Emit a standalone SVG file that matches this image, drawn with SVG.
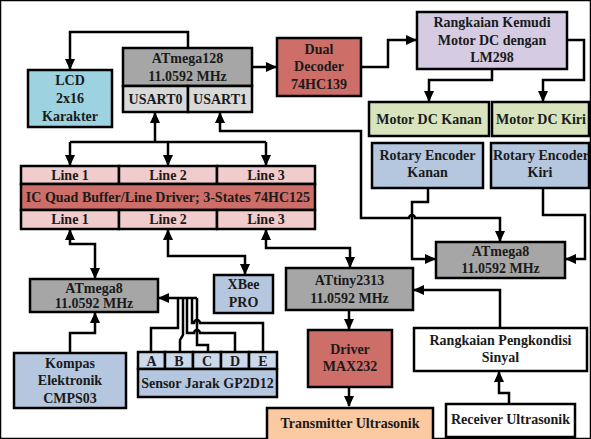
<svg xmlns="http://www.w3.org/2000/svg" width="591" height="439" viewBox="0 0 591 439">
<defs>
<marker id="ah" markerUnits="userSpaceOnUse" markerWidth="11" markerHeight="10" refX="10" refY="5" orient="auto-start-reverse">
<path d="M0,0 L11,5 L0,10 z" fill="#000"/>
</marker>
<style>
rect{stroke:#000;stroke-width:2.5}
text{font-family:"Liberation Serif","Times New Roman",serif;font-weight:bold;font-size:14px;text-anchor:middle;fill:#1a1a1a}
.gray{fill:#A6A6A6}.lgray{fill:#D9D9D9}.cyan{fill:#9DD2E0}.red{fill:#CD6E68}.lav{fill:#D5CCE3}
.green{fill:#D7E4BD}.blue{fill:#B5C7DF}.lblue{fill:#CBD9EA}.pink{fill:#F0CDCC}.peach{fill:#FBC9A2}.white{fill:#fff}
.c path{fill:none;stroke:#000;stroke-width:2.5}
.e{marker-end:url(#ah)}.b{marker-end:url(#ah);marker-start:url(#ah)}
</style>
</defs>
<rect x="0" y="0" width="591" height="439" fill="#fff" stroke="none"/>
<g class="c" id="connectors">
<path class="e" d="M188,48 V32 H70 V69"/>
<path class="e" d="M252,67 H276"/>
<path class="e" d="M361,67 H388 V40 H416"/>
<path class="e" d="M492,69 V80 H429 V101"/>
<path class="e" d="M567,40 H584 V80 H543 V101"/>
<path d="M70,142 H266"/>
<path class="e" d="M70,142 V165"/>
<path class="e" d="M168,142 V165"/>
<path class="e" d="M266,142 V165"/>
<path class="e" d="M155,142 V113"/>
<path class="b" d="M220,113 V131 H361 V218 H409 A3,3 0 0 1 415,218 H500 V241"/>
<path class="e" d="M428,188 V202 H412 V259 H435"/>
<path class="e" d="M543,188 V215 H585 V259 H566"/>
<path class="b" d="M70,230 V244 H95 V278"/>
<path class="b" d="M168,230 V256 H245 V274"/>
<path class="b" d="M266,230 V248 H350 V267"/>
<path class="e" d="M70,353 V333 H95 V313"/>
<path d="M151,352 V328 H178 V298"/>
<path d="M180,352 V340 L183,335 V298"/>
<path d="M208,352 V345 H197 V298"/>
<path d="M235,352 V333 H200 A3,3 0 0 0 194,333 H187 V298"/>
<path d="M263,352 V323 H200 A3,3 0 0 0 194,323 H192 V298"/>
<path class="e" d="M197,298 H159"/>
<path class="e" d="M349,310 V329"/>
<path class="e" d="M349,387 V406"/>
<path class="e" d="M500,328 V290 H414"/>
<path class="e" d="M509,404 V393 H499 V372"/>
</g>
<g id="lcd"><rect class="cyan" x="28" y="70" width="84" height="57"/><text x="70" y="85">LCD</text><text x="70" y="103">2x16</text><text x="70" y="121">Karakter</text></g>
<g id="atmega128"><rect class="gray" x="123" y="48" width="129" height="38"/><text x="187.5" y="63">ATmega128</text><text x="187.5" y="81">11.0592 MHz</text>
<rect class="lgray" x="123" y="86" width="65" height="26"/><text x="155.5" y="104">USART0</text>
<rect class="lgray" x="188" y="86" width="64" height="26"/><text x="220" y="104">USART1</text></g>
<g id="decoder"><rect class="red" x="277" y="38" width="84" height="58"/><text x="319" y="54">Dual</text><text x="319" y="71">Decoder</text><text x="319" y="89">74HC139</text></g>
<g id="kemudi"><rect class="lav" x="417" y="12" width="150" height="57"/><text x="492" y="27">Rangkaian Kemudi</text><text x="492" y="45">Motor DC dengan</text><text x="492" y="62">LM298</text></g>
<g id="motor-kanan"><rect class="green" x="369" y="102" width="120" height="34"/><text x="429" y="124">Motor DC Kanan</text></g>
<g id="motor-kiri"><rect class="green" x="492" y="102" width="97" height="34"/><text x="541" y="124">Motor DC Kiri</text></g>
<g id="rotary-kanan"><rect class="blue" x="372" y="143" width="111" height="45"/><text x="427.5" y="160">Rotary Encoder</text><text x="427.5" y="177">Kanan</text></g>
<g id="rotary-kiri"><rect class="blue" x="491" y="143" width="98" height="45"/><text x="541" y="160">Rotary Encoder</text><text x="540" y="177">Kiri</text></g>
<g id="buffer">
<rect class="pink" x="21" y="166" width="98" height="18"/><text x="70" y="180">Line 1</text>
<rect class="pink" x="119" y="166" width="98" height="18"/><text x="168" y="180">Line 2</text>
<rect class="pink" x="217" y="166" width="98" height="18"/><text x="266" y="180">Line 3</text>
<rect class="red" x="21" y="184" width="294" height="26"/><text x="168" y="202">IC Quad Buffer/Line Driver; 3-States 74HC125</text>
<rect class="pink" x="21" y="210" width="98" height="19"/><text x="70" y="224">Line 1</text>
<rect class="pink" x="119" y="210" width="98" height="19"/><text x="168" y="224">Line 2</text>
<rect class="pink" x="217" y="210" width="98" height="19"/><text x="266" y="224">Line 3</text>
</g>
<g id="atmega8-left"><rect class="gray" x="30" y="279" width="128" height="33"/><text x="94" y="293">ATmega8</text><text x="94" y="308">11.0592 MHz</text></g>
<g id="xbee"><rect class="blue" x="214" y="275" width="59" height="38"/><text x="243.5" y="289">XBee</text><text x="243.5" y="307">PRO</text></g>
<g id="attiny"><rect class="gray" x="286" y="268" width="127" height="42"/><text x="349.5" y="285">ATtiny2313</text><text x="349.5" y="303">11.0592 MHz</text></g>
<g id="atmega8-right"><rect class="gray" x="436" y="242" width="129" height="36"/><text x="500.5" y="256">ATmega8</text><text x="500.5" y="273">11.0592 MHz</text></g>
<g id="kompas"><rect class="blue" x="14" y="353" width="112" height="55"/><text x="70" y="368">Kompas</text><text x="70" y="385">Elektronik</text><text x="70" y="403">CMPS03</text></g>
<g id="sensor">
<rect class="lblue" x="138" y="352" width="27" height="17"/><text x="151.5" y="366">A</text>
<rect class="lblue" x="165" y="352" width="28" height="17"/><text x="179" y="366">B</text>
<rect class="lblue" x="193" y="352" width="28" height="17"/><text x="207" y="366">C</text>
<rect class="lblue" x="221" y="352" width="28" height="17"/><text x="235" y="366">D</text>
<rect class="lblue" x="249" y="352" width="28" height="17"/><text x="263" y="366">E</text>
<rect class="blue" x="138" y="369" width="139" height="28"/><text x="207.5" y="388">Sensor Jarak GP2D12</text>
</g>
<g id="driver"><rect class="red" x="308" y="330" width="84" height="57"/><text x="350" y="354">Driver</text><text x="350" y="371">MAX232</text></g>
<g id="pengkondisi"><rect class="white" x="414" y="328" width="173" height="43"/><text x="500.5" y="345">Rangkaian Pengkondisi</text><text x="500.5" y="362">Sinyal</text></g>
<g id="transmitter"><rect class="peach" x="267" y="408" width="166" height="40"/><text x="350" y="428">Transmitter Ultrasonik</text></g>
<g id="receiver"><rect class="white" x="446" y="404" width="129" height="33"/><text x="510.5" y="424">Receiver Ultrasonik</text></g>
</svg>
